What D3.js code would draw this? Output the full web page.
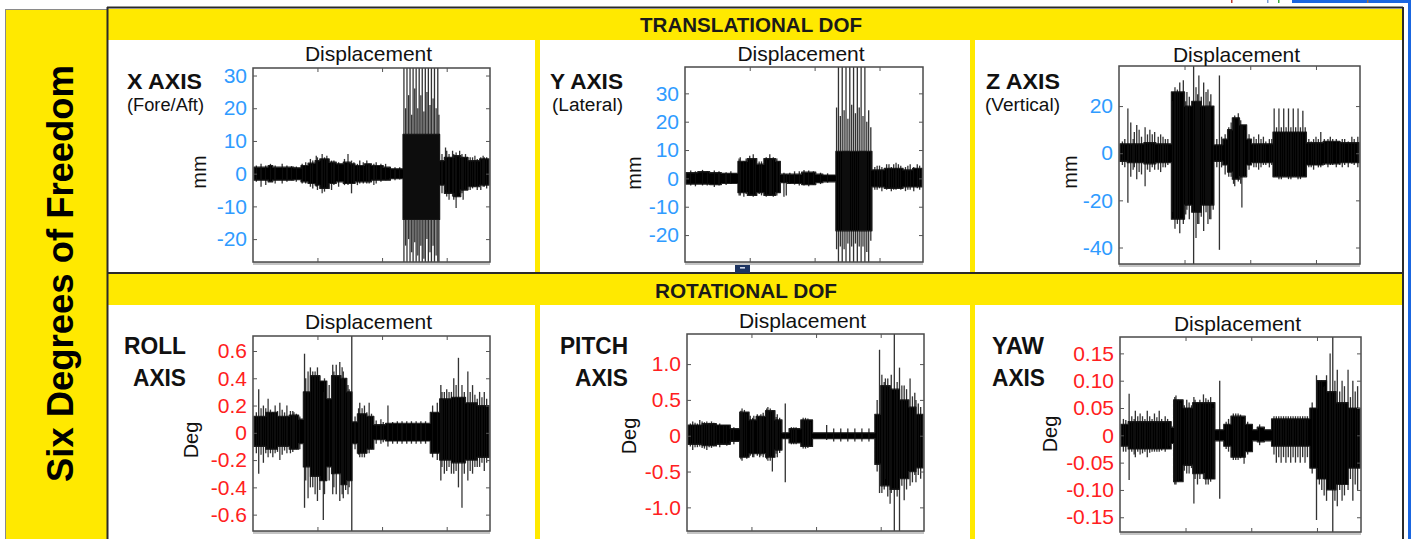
<!DOCTYPE html>
<html><head><meta charset="utf-8">
<script src="https://cdn.jsdelivr.net/npm/d3@7"></script>
<style>
html,body{margin:0;padding:0;background:#fff;overflow:hidden}
svg{display:block}
text{font-family:"Liberation Sans",Arial,Helvetica,sans-serif}
</style></head><body>
<svg id="c" width="1411" height="539"></svg>
<script>
// ---------------- DATA ----------------
// time axis is normalised 0..100 (% of record); envelopes are [t, upper, lower] steps,
// spikes are [t, upper, lower] single excursions
const timeRange = [0, 100];
const timeTicks = [27, 54.5, 82];

const xLimits = [-27, 32.3];
const xTicks = [-20, -10, 0, 10, 20, 30];
const xTickLabels = ["-20", "-10", "0", "10", "20", "30"];
const xEnv = [[0,2,-2],[6,2.5,-2.5],[8,2,-2],[17,1.8,-1.8],[20,2.5,-2.5],[23,3.2,-3],[26,4,-3.5],[28,4.5,-4.5],[32,3.5,-3],[35,3,-2.5],[38,3.5,-3],[41,3,-3],[43,2.5,-2.5],[47,3,-2.5],[50,2.5,-2],[55,2,-2],[58,1.5,-1.5],[63.4,12,-14],[79,4,-3.5],[81,5,-6],[85,5.5,-7],[88,5,-5],[91,4,-4],[96,4.5,-3.5]];
const xSpikes = [[3,3,-4],[5,2.5,-3.5],[12,3,-3],[24,4.5,-4],[27,5,-5],[29,6,-6],[31,5.5,-4.5],[33,4,-5],[40,6,-3.5],[41.5,4,-6],[45,4,-3],[48,4,-3],[52,3.5,-3],[56,3,-2],
  [1,2.5,-2.5],[7,3,-2.5],[9,2.5,-3],[14,2.5,-2.5],[16,2.3,-2],[18,2.2,-2.5],[20.5,3,-3],[22,3.5,-3],[25,4,-4.5],[26.5,5.5,-4],[30,5,-5.5],[34,4,-3.5],[36,3.5,-4],[38.5,4.5,-3.5],[42.5,3.5,-3],[44,3,-3.5],[46.5,3.5,-3],[49,3,-3],[51,3,-3.5],[54,3,-2.5],[58,2,-2],[60,2,-2],[62,2,-1.8],
  [63.8,32.3,-27],[64.5,20,-22],[65.1,32.3,-27],[65.8,24,-20],[66.4,32.3,-27],[67.1,18,-24],[67.7,32.3,-27],[68.4,26,-21],[69,32.3,-27],[69.7,20,-25],[70.3,32.3,-27],[71,24,-22],[71.6,32.3,-27],[72.3,19,-26],[72.9,32.3,-27],[73.6,25,-20],[74.2,32.3,-27],[74.9,21,-24],[75.5,32.3,-27],[76.2,23,-22],[76.8,32.3,-27],[77.5,20,-25],[78.2,32.3,-27],[78.7,18,-27],
  [80,6,-6],[81.5,8,-5],[83,6,-8],[84.5,7,-7],[86,6.5,-10.5],[87.5,7,-6],[89,5,-8],[92,5,-5],[95,4.5,-5],[98,5,-4],
  [82,7,-7],[85,6,-8],[88.5,6,-6],[90,6,-5],[91,5,-5],[93,5,-4.5],[94,5.5,-4],[96.5,5,-5],[97.5,5.5,-4],[99,5,-4.5]];

const yLimits = [-29.5, 39.3];
const yTicks = [-20, -10, 0, 10, 20, 30];
const yTickLabels = ["-20", "-10", "0", "10", "20", "30"];
const yEnv = [[0,2,-2],[5,2.4,-2],[10,2,-2.2],[15,1.8,-1.8],[22,6,-5],[26,7,-6],[30,5,-5],[33,7,-6],[38,6,-5],[40,1.5,-1.5],[43,1.5,-1.8],[49,2.2,-2.2],[55,1.5,-1.5],[58,1.2,-1.2],[63.5,9.5,-18.5],[78.8,3,-3],[84,3.5,-3.5],[92,3,-3],[96,3.5,-3]];
const ySpikes = [[23,7.5,-6],[24.5,6,-6.5],[27,8,-6],[28.5,8.5,-6.5],[31,6,-5.5],[34,7.5,-6.5],[35.5,8.5,-6],[37,7.5,-6.5],[41.5,2,-6.5],[42.5,1.5,-6],
  [2,2.8,-2.5],[4,2.5,-2.8],[7,3,-2.5],[9,2.5,-2.5],[12,2.8,-3],[14,2.5,-2.5],[17,2.2,-2.3],[19,2.5,-2],[22.5,7,-6],[25.5,7,-5.5],[29.5,6.5,-6],[32,6,-6],[36,7,-5.5],[38.5,7,-6],[39.5,6,-5],[44,2,-2],[46,2.5,-2.2],[48,2.5,-2.5],[50,3,-2.5],[52,2.8,-2.8],[54,2.5,-2.2],[57,2,-2],[60,1.8,-1.5],
  [63.8,25,-25],[64.6,39.3,-29.5],[65.4,22,-24],[66.2,39.3,-29.5],[67,24,-25],[67.8,39.3,-29.5],[68.6,21,-23],[69.4,39.3,-29.5],[70.2,26,-24],[71,39.3,-29.5],[71.8,23,-23],[72.6,39.3,-29.5],[73.4,25,-24],[74.2,39.3,-29.5],[75,22,-24],[75.8,39.3,-29.5],[76.6,20,-26],[77.4,24,-29.5],[78.3,18,-22],
  [81,4.5,-4],[85,5,-4],[88,5,-4],[90,5,-3.5],[94,4.5,-4],[98,5,-3.5],
  [80,4,-4],[82,4.5,-3.5],[83,4,-4.5],[86,5,-3.5],[87,4,-4.5],[89,5.5,-4],[91,4.5,-4],[93,4,-4.5],[95,5,-4],[96.5,4,-4.5],[99,4.5,-4]];

const zLimits = [-47, 37];
const zTicks = [-40, -20, 0, 20];
const zTickLabels = ["-40", "-20", "0", "20"];
const zEnv = [[0,4,-3.5],[3,4,-4],[10,4.5,-4.5],[15,4,-4],[21.5,26,-28],[27,20,-22],[30,22,-25],[34,20,-22],[39.3,3.5,-3.5],[43,6,-5],[45,10,-8],[47,15,-11],[50,12,-10],[53,6,-5],[55,4,-4],[64,9,-10],[78,4.5,-5],[85,5,-4.5],[92,4.5,-4]];
const zSpikes = [[3.3,19,-21],[4.5,13,-10],[7,12,-11],[10.5,11,-14],[12.5,10,-8],[14.5,9,-7],[17,8,-8],[19,6,-6],
  [1,5,-5],[2,6,-6],[5.5,6,-7],[6,9,-6],[8,10,-8],[9,7,-9],[11.5,8,-7],[13.5,8,-6],[16,7,-7],[18,7,-6],[20,6,-5],
  [23,28,-32],[25,30,-34],[26.5,31,-30],[28,26,-24],[30.8,37,-47],[31.8,28,-36],[33,33,-30],[35,30,-33],[36.8,27,-30],[38,25,-28],[41.6,33,-41],
  [22,22,-25],[24,27,-30],[27.5,22,-26],[29,24,-28],[32.5,25,-30],[34,24,-27],[36,26,-25],[37.5,22,-28],[39,20,-24],[40.5,6,-6],[42.5,7,-6],
  [44,8,-9],[48,16,-14],[49.5,17,-12],[51,12,-23],[56,7,-6],[58,8,-7],[60,7,-5],
  [45.5,11,-10],[46.5,13,-10],[47.5,15,-13],[50.5,14,-13],[52,10,-10],[54,8,-7],[57,6,-6],[59,6,-6],[61,5,-5],[62.5,6,-6],[63.5,6,-5],
  [64.5,19,-10],[66.5,19,-11],[68.5,19,-10],[70.5,19,-11],[72.5,19,-10],[74.5,19,-11],[76.5,18,-10],
  [65.5,11,-10],[67.5,11,-11],[69.5,11,-10],[71.5,11,-11],[73.5,11,-10],[75.5,11,-11],[77.5,11,-10],
  [81,6,-7],[84,9,-6],[88,7,-5],[93,6,-6],[97,7,-4.5],
  [79,6,-6],[80,5,-6],[82,7,-5],[83,6,-6],[85.5,6,-5],[87,6,-6],[89,6,-5],[90.5,6,-6],[92,5,-5],[94,6,-5],[95.5,5,-6],[98,6,-5],[99.5,7,-6]];

const rollLimits = [-0.72, 0.71];
const rollTicks = [-0.6, -0.4, -0.2, 0, 0.2, 0.4, 0.6];
const rollTickLabels = ["-0.6", "-0.4", "-0.2", "0", "0.2", "0.4", "0.6"];
const rollEnv = [[0,0.12,-0.1],[5,0.15,-0.12],[10,0.12,-0.1],[15,0.13,-0.12],[19,0.1,-0.08],[21,0.3,-0.25],[24,0.42,-0.32],[28,0.38,-0.35],[31,0.25,-0.25],[33,0.42,-0.3],[37,0.4,-0.38],[39.5,0.3,-0.35],[41.7,0.08,-0.08],[44,0.14,-0.15],[48,0.12,-0.12],[51,0.06,-0.05],[56,0.07,-0.06],[75,0.15,-0.15],[79,0.25,-0.2],[84,0.26,-0.22],[90,0.22,-0.2],[95,0.2,-0.18]];
const rollSpikes = [[2,0.32,-0.3],[4,0.2,-0.22],[6,0.25,-0.18],[9,0.2,-0.15],[11,0.22,-0.2],[14,0.2,-0.15],[17,0.15,-0.12],
  [1,0.15,-0.15],[3,0.18,-0.16],[5,0.18,-0.15],[7,0.17,-0.15],[8,0.15,-0.18],[10,0.16,-0.14],[12,0.17,-0.16],[13,0.15,-0.13],[15.5,0.16,-0.15],[16.5,0.16,-0.14],[18,0.14,-0.12],[19.5,0.12,-0.12],
  [21.5,0.58,-0.55],[23,0.45,-0.48],[25,0.45,-0.4],[27,0.48,-0.5],[29.5,0.3,-0.64],[33.5,0.5,-0.45],[35,0.5,-0.45],[36.5,0.52,-0.5],[38,0.45,-0.48],[40,0.35,-0.45],[41.6,0.71,-0.72],
  [22,0.4,-0.35],[24,0.48,-0.4],[26,0.45,-0.45],[28,0.42,-0.42],[30,0.4,-0.45],[32,0.35,-0.35],[34,0.45,-0.4],[37.5,0.48,-0.45],[39,0.4,-0.42],[40.5,0.32,-0.4],
  [45,0.22,-0.18],[47,0.2,-0.18],[49,0.22,-0.15],[54,0.1,-0.08],[57,0.2,-0.1],[59,0.08,-0.08],[61,0.085,-0.08],[63,0.085,-0.08],[65,0.085,-0.08],[67,0.085,-0.08],[69,0.085,-0.08],[71,0.085,-0.08],[73,0.085,-0.08],
  [43,0.12,-0.12],[44.5,0.18,-0.16],[46,0.18,-0.18],[48,0.15,-0.15],[50,0.14,-0.12],[52,0.09,-0.08],[55,0.08,-0.07],
  [79.5,0.35,-0.35],[81,0.3,-0.3],[83,0.3,-0.25],[85,0.4,-0.3],[87,0.55,-0.4],[88.5,0.35,-0.55],[91,0.45,-0.35],[93,0.35,-0.3],[96,0.3,-0.25],[98,0.3,-0.28],
  [76,0.2,-0.18],[78,0.22,-0.2],[80,0.3,-0.25],[82,0.32,-0.28],[84,0.3,-0.3],[86,0.35,-0.28],[89.5,0.3,-0.3],[92,0.3,-0.28],[94,0.28,-0.25],[95,0.25,-0.25],[97,0.26,-0.22],[99,0.25,-0.22]];

const pitchLimits = [-1.33, 1.42];
const pitchTicks = [-1, -0.5, 0, 0.5, 1];
const pitchTickLabels = ["-1.0", "-0.5", "0", "0.5", "1.0"];
const pitchEnv = [[0,0.15,-0.12],[6,0.17,-0.14],[12,0.15,-0.12],[18,0.1,-0.08],[22,0.33,-0.3],[26,0.22,-0.25],[29,0.27,-0.25],[33,0.35,-0.3],[37,0.22,-0.2],[40,0.04,-0.04],[43,0.1,-0.1],[48,0.22,-0.15],[53,0.04,-0.04],[79.5,0.3,-0.4],[82,0.7,-0.7],[86,0.65,-0.75],[90,0.5,-0.6],[94,0.4,-0.5],[97,0.3,-0.45]];
const pitchSpikes = [[2,0.2,-0.2],[5,0.22,-0.15],[8,0.2,-0.2],[11,0.18,-0.15],[15,0.15,-0.12],
  [1,0.17,-0.15],[3,0.18,-0.16],[4,0.17,-0.16],[6,0.2,-0.17],[7,0.19,-0.18],[9,0.18,-0.16],[10,0.2,-0.17],[12,0.17,-0.15],[13.5,0.17,-0.16],[16.5,0.15,-0.14],[18,0.12,-0.1],[19.5,0.12,-0.12],
  [23,0.38,-0.35],[25,0.3,-0.32],[28,0.28,-0.3],[31,0.3,-0.28],[34,0.4,-0.35],[35.9,0.35,-0.5],[38,0.3,-0.3],[41.4,0.45,-0.65],
  [22.5,0.35,-0.33],[24,0.36,-0.3],[26.5,0.28,-0.28],[27.5,0.25,-0.3],[29.5,0.3,-0.28],[30.5,0.28,-0.3],[32,0.32,-0.3],[33.5,0.38,-0.33],[35,0.38,-0.35],[36.5,0.33,-0.3],[37.5,0.26,-0.25],[39,0.25,-0.24],
  [45,0.12,-0.12],[50,0.25,-0.18],[59,0.15,-0.06],[62,0.1,-0.08],[65,0.1,-0.08],[68,0.1,-0.08],[71,0.1,-0.08],[74,0.1,-0.08],[77,0.1,-0.08],
  [44,0.12,-0.12],[46,0.12,-0.12],[49,0.25,-0.18],[51,0.24,-0.17],[52,0.2,-0.15],
  [81.5,1.2,-0.8],[84,0.8,-0.6],[86,0.7,-0.95],[87.8,1.42,-1.33],[90,0.95,-1.33],[92,0.7,-0.9],[94.5,0.8,-0.7],[97,0.5,-0.65],[99,0.4,-0.6],
  [80.5,0.5,-0.5],[82.5,0.85,-0.8],[83.5,0.75,-0.75],[85,0.8,-0.85],[86.5,0.85,-0.8],[89,0.75,-0.85],[91,0.7,-0.7],[93,0.65,-0.75],[95.5,0.55,-0.65],[96.5,0.6,-0.55],[98,0.45,-0.55]];

const yawLimits = [-0.177, 0.18];
const yawTicks = [-0.15, -0.10, -0.05, 0, 0.05, 0.10, 0.15];
const yawTickLabels = ["-0.15", "-0.10", "-0.05", "0", "0.05", "0.10", "0.15"];
const yawEnv = [[0,0.02,-0.02],[3,0.025,-0.025],[21,0.015,-0.015],[22,0.065,-0.085],[26,0.05,-0.055],[30,0.06,-0.07],[35,0.06,-0.08],[39.3,0.01,-0.01],[43,0.02,-0.02],[46,0.035,-0.04],[52,0.02,-0.03],[55,0.01,-0.01],[57,0.015,-0.012],[60,0.01,-0.01],[63,0.03,-0.02],[79,0.05,-0.06],[82,0.1,-0.08],[86,0.08,-0.1],[90,0.06,-0.09],[95,0.05,-0.06]];
const yawSpikes = [[3.4,0.076,-0.082],[6,0.045,-0.04],[8,0.04,-0.035],[11,0.045,-0.04],[14,0.04,-0.03],[16,0.045,-0.03],[18.5,0.035,-0.03],
  [1,0.03,-0.03],[2,0.028,-0.03],[4.5,0.035,-0.03],[5.5,0.03,-0.035],[7,0.035,-0.03],[9,0.035,-0.033],[10,0.03,-0.03],[12,0.035,-0.032],[13,0.03,-0.03],[15,0.033,-0.03],[17,0.03,-0.028],[19.5,0.03,-0.025],[20.5,0.025,-0.02],
  [23,0.073,-0.09],[25,0.06,-0.08],[27.5,0.065,-0.07],[30.5,0.07,-0.125],[32,0.06,-0.09],[34.5,0.075,-0.08],[36.5,0.065,-0.09],[38.5,0.05,-0.08],[41.3,0.1,-0.116],
  [22.5,0.07,-0.09],[24,0.065,-0.085],[26.5,0.055,-0.065],[28.5,0.06,-0.07],[29.5,0.055,-0.06],[31,0.065,-0.08],[33,0.065,-0.08],[35.5,0.068,-0.09],[37.5,0.07,-0.085],[39,0.055,-0.07],
  [48,0.04,-0.045],[51.5,0.03,-0.052],[65,0.035,-0.05],[67,0.035,-0.05],[69,0.035,-0.05],[71,0.035,-0.05],[73,0.035,-0.05],[75,0.035,-0.05],[77,0.035,-0.05],
  [44,0.025,-0.025],[45,0.03,-0.03],[47,0.04,-0.045],[49,0.04,-0.045],[50,0.038,-0.042],[53,0.025,-0.035],[58,0.02,-0.018],
  [64,0.035,-0.035],[66,0.035,-0.04],[68,0.035,-0.04],[70,0.035,-0.04],[72,0.035,-0.04],[74,0.035,-0.04],[76,0.035,-0.04],[78,0.035,-0.04],
  [81.8,0.11,-0.155],[84,0.1,-0.1],[86,0.11,-0.12],[87.5,0.15,-0.1],[88.6,0.18,-0.177],[90.5,0.12,-0.13],[92.5,0.1,-0.12],[95,0.12,-0.1],[97,0.1,-0.12],[99,0.09,-0.1],
  [80,0.06,-0.07],[83,0.1,-0.09],[85,0.09,-0.11],[89.5,0.1,-0.12],[91.5,0.08,-0.1],[93.5,0.09,-0.11],[96,0.07,-0.08],[98,0.08,-0.09]];

const sideTitle = "Six Degrees of Freedom";
const rowTitles = ["TRANSLATIONAL DOF", "ROTATIONAL DOF"];
const plotTitle = "Displacement";

// ---------------- LAYOUT ----------------
const YELLOW = "#ffe900";
const BLUE = "#2f9bff", RED = "#ff2020";

const panels = [
  {env:xEnv, spikes:xSpikes, lim:xLimits, ticks:xTicks, labels:xTickLabels, color:BLUE,
   box:[253,68,490,262], titleY:61, unit:"mm", unitPos:[206,172],
   names:[{t:"X AXIS",x:127,y:89,b:1,s:22,l:75},{t:"(Fore/Aft)",x:127,y:111,b:0,s:18,l:77}]},
  {env:yEnv, spikes:ySpikes, lim:yLimits, ticks:yTicks, labels:yTickLabels, color:BLUE,
   box:[685,67,923,262], titleY:61, unit:"mm", unitPos:[641,173],
   names:[{t:"Y AXIS",x:550,y:89,b:1,s:22,l:73},{t:"(Lateral)",x:552,y:111,b:0,s:18,l:71}]},
  {env:zEnv, spikes:zSpikes, lim:zLimits, ticks:zTicks, labels:zTickLabels, color:BLUE,
   box:[1119,66,1360,264], titleY:62, unit:"mm", unitPos:[1077,172],
   names:[{t:"Z AXIS",x:986,y:89,b:1,s:22,l:74},{t:"(Vertical)",x:985,y:111,b:0,s:18,l:75}]},
  {env:rollEnv, spikes:rollSpikes, lim:rollLimits, ticks:rollTicks, labels:rollTickLabels, color:RED,
   box:[253,336,490,531], titleY:329, unit:"Deg", unitPos:[198,440],
   names:[{t:"ROLL",x:124,y:354,b:1,s:23,l:62},{t:"AXIS",x:133,y:386,b:1,s:23,l:53}]},
  {env:pitchEnv, spikes:pitchSpikes, lim:pitchLimits, ticks:pitchTicks, labels:pitchTickLabels, color:RED,
   box:[687,334,924,531], titleY:328, unit:"Deg", unitPos:[636,436],
   names:[{t:"PITCH",x:560,y:354,b:1,s:23,l:68},{t:"AXIS",x:575,y:386,b:1,s:23,l:53}]},
  {env:yawEnv, spikes:yawSpikes, lim:yawLimits, ticks:yawTicks, labels:yawTickLabels, color:RED,
   box:[1120,337,1361,532], titleY:331, unit:"Deg", unitPos:[1057,434],
   names:[{t:"YAW",x:992,y:354,b:1,s:23,l:52},{t:"AXIS",x:992,y:386,b:1,s:23,l:53}]}
];

const svg = d3.select("#c");
const defs = svg.append("defs");
defs.append("filter").attr("id","soft").attr("x","-5%").attr("y","-5%").attr("width","110%").attr("height","110%")
  .append("feGaussianBlur").attr("stdDeviation",0.55);

// background frame
svg.append("rect").attr("x",0).attr("y",0).attr("width",1411).attr("height",539).attr("fill","#fff");
// left yellow column
svg.append("rect").attr("x",5.5).attr("y",9.5).attr("width",102).attr("height",540)
  .attr("fill",YELLOW).attr("stroke","#8a8a8a").attr("stroke-width",1);
svg.append("text").attr("transform","translate(73,273.5) rotate(-90)")
  .attr("text-anchor","middle").attr("font-size",36).attr("font-weight","bold")
  .attr("fill","#000").attr("textLength",417).attr("lengthAdjust","spacingAndGlyphs").text(sideTitle);

// header bands
svg.append("rect").attr("x",108).attr("y",9).attr("width",1294).attr("height",31).attr("fill",YELLOW);
svg.append("rect").attr("x",108).attr("y",274).attr("width",1294).attr("height",31).attr("fill",YELLOW);
svg.append("text").attr("x",751).attr("y",32).attr("text-anchor","middle").attr("font-size",20)
  .attr("font-weight","bold").attr("fill","#1a1a1a").attr("textLength",222).attr("lengthAdjust","spacingAndGlyphs").text(rowTitles[0]);
svg.append("text").attr("x",746).attr("y",298).attr("text-anchor","middle").attr("font-size",20)
  .attr("font-weight","bold").attr("fill","#1a1a1a").attr("textLength",182).attr("lengthAdjust","spacingAndGlyphs").text(rowTitles[1]);

// yellow dividers between panels
[[535,40,5,233],[970,40,5,233],[535,305,5,234],[970,305,5,234]].forEach(r=>{
  svg.append("rect").attr("x",r[0]).attr("y",r[1]).attr("width",r[2]).attr("height",r[3]).attr("fill",YELLOW);
});

// frame lines
const fl = [[107,7.5,1403,7.5,2],[107.5,7,107.5,539,2],[1403,7,1403,539,2],[108,273,1403,273,2]];
fl.forEach(l=>svg.append("line").attr("x1",l[0]).attr("y1",l[1]).attr("x2",l[2]).attr("y2",l[3])
  .attr("stroke","#2a2a2a").attr("stroke-width",l[4]));

// screen artefacts (top right, small marker)
svg.append("rect").attr("x",1292).attr("y",0).attr("width",119).attr("height",3).attr("fill","#1a66e0");
svg.append("rect").attr("x",1408).attr("y",0).attr("width",3).attr("height",539).attr("fill","#1a66e0");
svg.append("rect").attr("x",1231).attr("y",0).attr("width",1.5).attr("height",3).attr("fill","#c0392b");
svg.append("rect").attr("x",1267).attr("y",0).attr("width",1.5).attr("height",3).attr("fill","#7aa0d8");
svg.append("rect").attr("x",1278).attr("y",0).attr("width",1.5).attr("height",3).attr("fill","#3cae3c");
svg.append("rect").attr("x",1367).attr("y",0).attr("width",1.5).attr("height",3).attr("fill","#a07040");
svg.append("rect").attr("x",735).attr("y",263).attr("width",15).attr("height",10).attr("fill","#1d3461");
svg.append("rect").attr("x",740).attr("y",267).attr("width",5).attr("height",1.6).attr("fill","#d0d8e8");

// ---------------- PANELS ----------------
panels.forEach((p,i)=>{
  const [x0,y0,x1,y1] = p.box;
  const g = svg.append("g");
  const x = d3.scaleLinear().domain(timeRange).range([x0+1, x1-1]);
  const y = d3.scaleLinear().domain(p.lim).range([y1, y0]);

  const clipId = "clip"+i;
  defs.append("clipPath").attr("id",clipId).append("rect")
    .attr("x",x0).attr("y",y0).attr("width",x1-x0).attr("height",y1-y0);

  // grey bar under the box
  g.append("rect").attr("x",x0).attr("y",y1).attr("width",x1-x0).attr("height",3).attr("fill","#c4c4c4");

  const clipG = g.append("g").attr("clip-path",`url(#${clipId})`);
  const sig = clipG.append("g").attr("filter","url(#soft)");
  const last = p.env[p.env.length-1];
  const pts = p.env.concat([[timeRange[1], last[1], last[2]]]);
  const area = d3.area().x(d=>x(d[0])).y0(d=>y(d[2])).y1(d=>y(d[1])).curve(d3.curveStepAfter);
  sig.append("path").datum(pts).attr("d",area).attr("fill","#000")
    .attr("stroke","#222").attr("stroke-width",1.2).attr("stroke-linejoin","round");
  sig.selectAll("line.sp").data(p.spikes).join("line").attr("class","sp")
    .attr("x1",d=>x(d[0])).attr("x2",d=>x(d[0]))
    .attr("y1",d=>y(d[2])).attr("y2",d=>y(d[1]))
    .attr("stroke","#111").attr("stroke-width",1.3).attr("stroke-opacity",0.85);

  // box
  g.append("rect").attr("x",x0).attr("y",y0).attr("width",x1-x0).attr("height",y1-y0)
    .attr("fill","none").attr("stroke","#4a4a4a").attr("stroke-width",1.5);

  // axes
  const ax = g.append("g").attr("transform",`translate(${x0},0)`)
    .call(d3.axisLeft(y).tickValues(p.ticks).tickFormat((d,k)=>p.labels[k]).tickSizeInner(-4).tickSizeOuter(0).tickPadding(6));
  ax.select(".domain").remove();
  ax.attr("font-size",21).attr("font-family","'Liberation Sans',Arial,sans-serif");
  ax.selectAll("text").attr("fill",p.color);
  ax.selectAll("line").attr("stroke","#555");

  const ar = g.append("g").attr("transform",`translate(${x1},0)`)
    .call(d3.axisRight(y).tickValues(p.ticks).tickFormat("").tickSizeInner(-4).tickSizeOuter(0));
  ar.select(".domain").remove(); ar.selectAll("line").attr("stroke","#555");
  const ab = g.append("g").attr("transform",`translate(0,${y1})`)
    .call(d3.axisBottom(x).tickValues(timeTicks).tickFormat("").tickSizeInner(-4).tickSizeOuter(0));
  ab.select(".domain").remove(); ab.selectAll("line").attr("stroke","#555");
  const at = g.append("g").attr("transform",`translate(0,${y0})`)
    .call(d3.axisTop(x).tickValues(timeTicks).tickFormat("").tickSizeInner(-4).tickSizeOuter(0));
  at.select(".domain").remove(); at.selectAll("line").attr("stroke","#555");

  // title
  g.append("text").attr("x",(x0+x1)/2-3).attr("y",p.titleY).attr("text-anchor","middle")
    .attr("font-size",21).attr("fill","#111").text(plotTitle);
  // unit label
  g.append("text").attr("transform",`translate(${p.unitPos[0]},${p.unitPos[1]}) rotate(-90)`)
    .attr("text-anchor","middle").attr("font-size",20).attr("fill","#111").text(p.unit);
  // axis name
  p.names.forEach(n=>{
    g.append("text").attr("x",n.x).attr("y",n.y).attr("font-size",n.s)
      .attr("font-weight",n.b?"bold":"normal").attr("fill","#111")
      .attr("textLength",n.l).attr("lengthAdjust","spacingAndGlyphs").text(n.t);
  });
});
</script>
</body></html>
